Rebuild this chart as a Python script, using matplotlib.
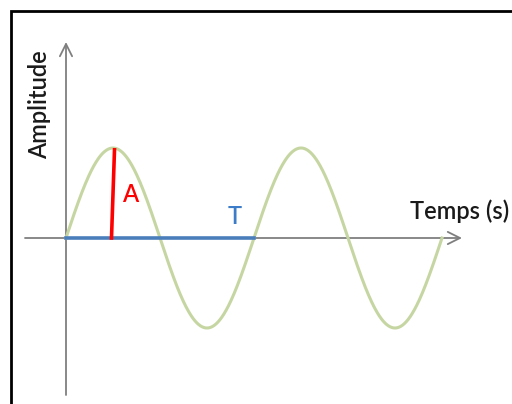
import numpy as np
import matplotlib.pyplot as plt
from matplotlib.patches import Rectangle

# wave parameters (period T = 1, amplitude A = 1), two full periods drawn
amplitude = 1.0
period = 1.0
n_periods = 2

axis_labels = ["Temps (s)", "Amplitude"]
marker_labels = ["A", "T"]

# pixel layout of the drawing (origin of the axes, scale per unit)
origin_px = (66, 238)
px_per_period = 188
px_per_amp = 90
width_px, height_px = 512, 404


def to_data_x(px):
    return (px - origin_px[0]) / px_per_period


def to_data_y(py):
    return (origin_px[1] - py) / px_per_amp


t = np.linspace(0, n_periods * period, 600)
wave = amplitude * np.sin(2 * np.pi * t / period)

figure = plt.figure(figsize=(width_px / 100, height_px / 100), dpi=100)
axis = figure.add_axes([0, 0, 1, 1])
axis.set_xlim(to_data_x(0), to_data_x(width_px))
axis.set_ylim(to_data_y(height_px), to_data_y(0))
axis.axis("off")

# outer frame, cut by the right and bottom edges
figure.patches.append(
    Rectangle(
        (11 / width_px, -0.1),
        1.2,
        1.1 - 11 / height_px,
        transform=figure.transFigure,
        fill=False,
        edgecolor="black",
        linewidth=2,
    )
)

# sine wave
axis.plot(t, wave, color="#c6d6a2", linewidth=2.2, zorder=2)

# axes with open arrows
arrow_style = dict(arrowstyle="->", color="#7f7f7f", linewidth=1.3,
                   mutation_scale=22, shrinkA=0, shrinkB=0)
axis.annotate("", xy=(to_data_x(462), 0), xytext=(to_data_x(25), 0),
              arrowprops=arrow_style, zorder=1)
axis.annotate("", xy=(0, to_data_y(42)), xytext=(0, to_data_y(395)),
              arrowprops=arrow_style, zorder=1)

# period marker
axis.plot([0, period], [0, 0], color="#4a7ebb", linewidth=2.6, zorder=3)

# amplitude marker
axis.plot([period / 4 - 0.008, period / 4 + 0.008], [0, amplitude * 0.98],
          color="#ff0000", linewidth=2.6, zorder=4)

text_style = dict(family=["Lato", "DejaVu Sans"], fontsize=17,
                  fontweight="semibold")
axis.text(to_data_x(130), to_data_y(194), marker_labels[0], color="#ff0000",
          ha="center", va="center", **text_style)
axis.text(to_data_x(235), to_data_y(217), marker_labels[1], color="#3d7cc9",
          ha="center", va="center", **text_style)
axis.text(to_data_x(460), to_data_y(211), axis_labels[0], color="#1a1a1a",
          ha="center", va="center", **text_style)
axis.text(to_data_x(40), to_data_y(105), axis_labels[1], color="#1a1a1a",
          ha="center", va="center", rotation=90, **text_style)

figure.savefig("out.png", dpi=100)
